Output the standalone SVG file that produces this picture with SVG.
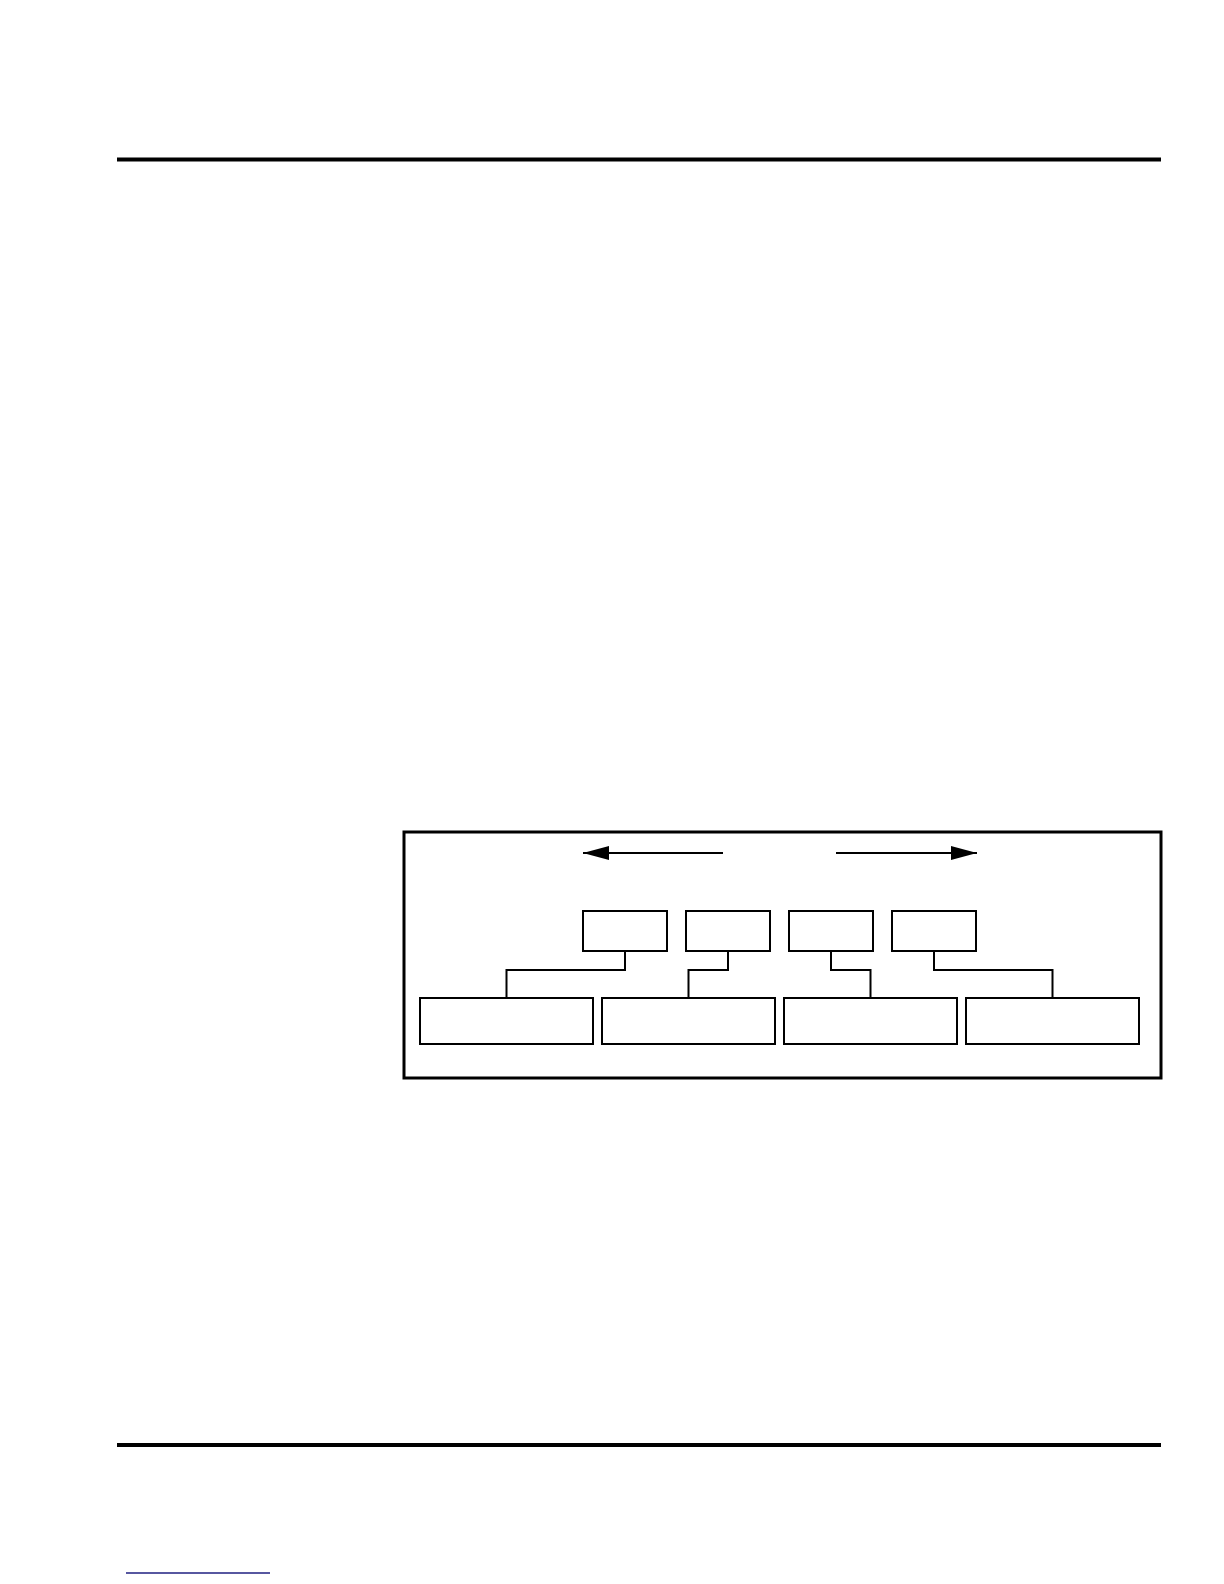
<svg xmlns="http://www.w3.org/2000/svg" width="1224" height="1584" viewBox="0 0 1224 1584">
<style>
.rule{stroke:#000;stroke-width:4;fill:none}
.frame{fill:none;stroke:#000;stroke-width:3}
.box{fill:#fff;stroke:#000;stroke-width:2}
.conn{fill:none;stroke:#000;stroke-width:2}
</style>
<defs>
<marker id="arrow" viewBox="0 0 26 14" refX="26" refY="7" markerWidth="26" markerHeight="14" markerUnits="userSpaceOnUse" orient="auto">
<path d="M0,0 L26,7 L0,14 Z" fill="#000"/>
</marker>
</defs>
<rect width="1224" height="1584" fill="#fff"/>
<line class="rule" x1="117" y1="159.5" x2="1161" y2="159.5"/>
<line class="rule" x1="117" y1="1445" x2="1161" y2="1445"/>
<line x1="126" y1="1573" x2="270" y2="1573" stroke="#1f1f80" stroke-width="1.5"/>
<rect id="frame" class="frame" x="404" y="832" width="757" height="246"/>
<g id="connectors">
<line class="conn" x1="723" y1="853" x2="583" y2="853" marker-end="url(#arrow)"/>
<line class="conn" x1="836" y1="853" x2="977" y2="853" marker-end="url(#arrow)"/>
<polyline class="conn" points="625,951 625,970 506.5,970 506.5,998"/>
<polyline class="conn" points="728,951 728,970 688.5,970 688.5,998"/>
<polyline class="conn" points="831,951 831,970 870.5,970 870.5,998"/>
<polyline class="conn" points="934,951 934,970 1052.5,970 1052.5,998"/>
</g>
<g id="s1"><rect class="box" x="583" y="911" width="84" height="40"/></g>
<g id="s2"><rect class="box" x="686" y="911" width="84" height="40"/></g>
<g id="s3"><rect class="box" x="789" y="911" width="84" height="40"/></g>
<g id="s4"><rect class="box" x="892" y="911" width="84" height="40"/></g>
<g id="b1"><rect class="box" x="420" y="998" width="173" height="46"/></g>
<g id="b2"><rect class="box" x="602" y="998" width="173" height="46"/></g>
<g id="b3"><rect class="box" x="784" y="998" width="173" height="46"/></g>
<g id="b4"><rect class="box" x="966" y="998" width="173" height="46"/></g>
</svg>
